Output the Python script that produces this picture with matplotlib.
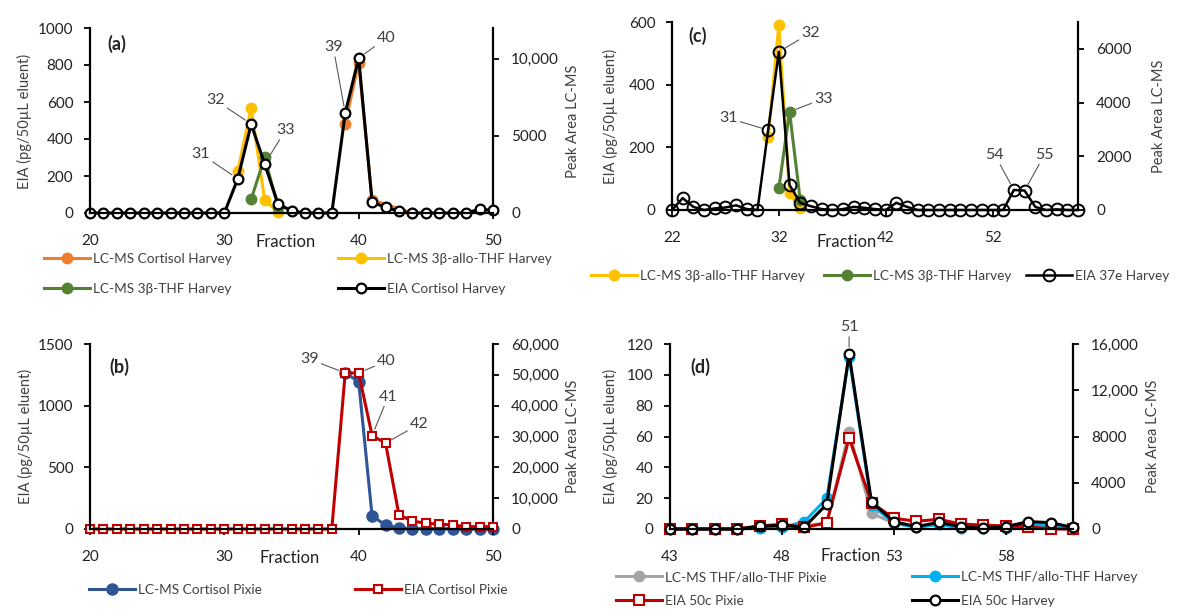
import matplotlib
matplotlib.use('Agg')
import matplotlib.pyplot as plt
from matplotlib.ticker import FuncFormatter, MultipleLocator

plt.rcParams['font.family'] = ['Lato', 'DejaVu Sans']

W, H = 1178, 610
fig = plt.figure(figsize=(W / 100, H / 100), dpi=100)

def fx(px):
    return px / W

def fy(py):
    return 1 - py / H

# ---------------- data ----------------
# (a) Harvey cortisol
frac_a = list(range(20, 51))
eia_cortisol_harvey = [0, 0, 0, 0, 0, 0, 0, 0, 0, 0, 0,
                       185, 481, 265, 49, 12, 0, 0, 0, 540, 838,
                       59, 30, 10, 0, 0, 0, 0, 0, 20, 15]
frac_lcms_cortisol_harvey = [39, 40, 41, 44]
lcms_cortisol_harvey = [5800, 9740, 840, 0]
frac_allo_a = [31, 32, 33, 34]
lcms_allo_thf_harvey_a = [2710, 6840, 840, 60]
frac_thf_a = [32, 33, 34]
lcms_thf_harvey_a = [900, 3610, 390]

# (b) Pixie cortisol
frac_b = list(range(20, 51))
eia_cortisol_pixie = [0] * 19 + [1265, 1265, 757, 697, 114, 65, 46, 40, 32, 19, 19, 19]
frac_lcms_cortisol_pixie = list(range(39, 51))
lcms_cortisol_pixie = [50600, 47800, 4200, 1300, 300, 150, 100, 100, 80, 50, 30, 0]

# (c) Harvey 37e
frac_c = list(range(22, 61))
eia_37e_harvey = [0, 38, 10, 0, 5, 8, 15, 3, 0, 255,
                  505, 80, 23, 12, 3, 0, 3, 10, 7, 3,
                  0, 23, 10, 0, 0, 0, 0, 0, 0, 0,
                  0, 0, 64, 62, 10, 0, 2, 0, 0]
frac_allo_c = [31, 32, 33, 34]
lcms_allo_thf_harvey_c = [2700, 6900, 620, 60]
frac_thf_c = [32, 33, 34]
lcms_thf_harvey_c = [810, 3660, 370]

# (d) 50c
frac_d = list(range(43, 62))
eia_50c_harvey = [0, 0, 0, 0, 1.7, 2.4, 1.3, 16, 113.5, 17.5,
                  4.8, 1.5, 4.3, 1.5, 0.5, 1.5, 4.8, 4.1, 1.0]
eia_50c_pixie = [0, 0, 0, 0, 2, 3, 1, 4, 59, 17,
                 7, 5, 6.3, 3.2, 2.5, 2, 1.5, 0, 0]
lcms_thf_harvey_d = [0, 0, 0, 0, 100, 150, 630, 2650, 14900, 2080,
                     500, 150, 400, 100, 50, 100, 400, 300, 50]
lcms_thf_pixie_d = [0, 0, 0, 0, 100, 150, 300, 500, 8420, 1360,
                    500, 200, 400, 100, 50, 100, 300, 200, 0]

# ---------------- styling ----------------
TXT = '#404040'
ORANGE = '#ED7D31'
YELLOW = '#FFC000'
GREEN = '#548235'
NAVY = '#2F5597'
RED = '#C00000'
GREY = '#A5A5A5'
CYAN = '#00B0F0'


def fmt_num(v, pos):
    v = int(round(v))
    return f"{v:,}" if v >= 10000 else f"{v}"


def make_axes(left, top, right, bottom, xlim, xstep, ylim, ystep, y2lim, y2step):
    ax = fig.add_axes([fx(left), fy(bottom), (right - left) / W, (bottom - top) / H])
    ax2 = ax.twinx()
    ax.set_zorder(ax2.get_zorder() + 1)
    ax.patch.set_visible(False)
    for s in ('top', 'right'):
        ax.spines[s].set_visible(False)
    for s in ('top', 'left', 'bottom'):
        ax2.spines[s].set_visible(False)
    for sp in (ax.spines['left'], ax.spines['bottom'], ax2.spines['right']):
        sp.set_linewidth(1.6)
        sp.set_color('black')
    ax.set_xlim(*xlim)
    ax.set_ylim(*ylim)
    ax2.set_ylim(*y2lim)
    ax.xaxis.set_major_locator(MultipleLocator(xstep, offset=xlim[0] % xstep))
    ax.yaxis.set_major_locator(MultipleLocator(ystep))
    ax2.yaxis.set_major_locator(MultipleLocator(y2step))
    ax.yaxis.set_major_formatter(FuncFormatter(fmt_num))
    ax2.yaxis.set_major_formatter(FuncFormatter(fmt_num))
    ax.tick_params(axis='x', direction='out', length=4, width=1.3, pad=11,
                   labelsize=11, labelcolor='#222222')
    ax.tick_params(axis='y', direction='out', length=4, width=1.3, pad=8,
                   labelsize=11, labelcolor='#222222')
    ax2.tick_params(axis='y', direction='out', length=4, width=1.3, pad=9,
                    labelsize=11, labelcolor='#222222')
    return ax, ax2


def side_labels(xl, xr, yc, fx_c, fy_c, letter, lx, ly, frac_ha='center'):
    fig.text(fx(xl), fy(yc), 'EIA (pg/50µL eluent)', rotation=90, ha='center',
             va='center', fontsize=10.5, color=TXT)
    fig.text(fx(xr), fy(yc), 'Peak Area LC-MS', rotation=90, ha='center',
             va='center', fontsize=10.5, color=TXT)
    fig.text(fx(fx_c), fy(fy_c), 'Fraction', ha=frac_ha, va='center',
             fontsize=12, color='#222222')
    fig.text(fx(lx), fy(ly), letter, ha='center', va='center', fontsize=13,
             fontweight='bold', color='#222222')


def label(ax, n, val, dx_px, dy_px):
    ax.annotate(str(n), xy=(n, val), xytext=(dx_px / 1.389, dy_px / 1.389),
                textcoords='offset points', ha='center', va='center',
                fontsize=11.5, color=TXT,
                arrowprops=dict(arrowstyle='-', color='#595959', lw=0.8,
                                shrinkA=0, shrinkB=5))


def legend_entry(handle, text, x_px, y_px):
    fig.legend([handle], [text], loc='center left',
               bbox_to_anchor=(fx(x_px), fy(y_px)), frameon=False,
               handlelength=3.4, handletextpad=0.2, borderpad=0,
               borderaxespad=0, fontsize=9.8, labelcolor=TXT)


# ---------------- (a) ----------------
axa, axa2 = make_axes(90, 28, 493, 213, (20, 50), 10, (0, 1000), 200, (0, 12000), 5000)
l_or, = axa2.plot(frac_lcms_cortisol_harvey, lcms_cortisol_harvey, color=ORANGE, lw=2.2,
                  marker='o', ms=7.5, clip_on=False)
l_ye, = axa2.plot(frac_allo_a, lcms_allo_thf_harvey_a, color=YELLOW, lw=2.2,
                  marker='o', ms=7.5, clip_on=False)
l_gr, = axa2.plot(frac_thf_a, lcms_thf_harvey_a, color=GREEN, lw=2.2,
                  marker='o', ms=7.5, clip_on=False)
l_bk, = axa.plot(frac_a, eia_cortisol_harvey, color='black', lw=2.2, marker='o', ms=7,
                 mfc='white', mec='black', mew=1.6, clip_on=False)
label(axa, 31, eia_cortisol_harvey[11], -37, 25)
label(axa, 32, eia_cortisol_harvey[12], -36, 24)
label(axa, 33, eia_cortisol_harvey[13], 21, 34)
label(axa, 39, eia_cortisol_harvey[19], -12, 66)
label(axa, 40, eia_cortisol_harvey[20], 28, 20)
side_labels(24, 573, 121, 286, 242, '(a)', 117, 44)
legend_entry(l_or, 'LC-MS Cortisol Harvey', 44, 259)
legend_entry(l_gr, 'LC-MS 3β-THF Harvey', 44, 289)
legend_entry(l_ye, 'LC-MS 3β-allo-THF Harvey', 338, 259)
legend_entry(l_bk, 'EIA Cortisol Harvey', 338, 289)

# ---------------- (b) ----------------
axb, axb2 = make_axes(90, 344, 493, 529, (20, 50), 10, (0, 1500), 500, (0, 60000), 10000)
l_bl, = axb2.plot(frac_lcms_cortisol_pixie, lcms_cortisol_pixie, color=NAVY, lw=2.2,
                  marker='o', ms=8, clip_on=False)
l_rd, = axb.plot(frac_b, eia_cortisol_pixie, color=RED, lw=2.2, marker='s', ms=5.5,
                 mfc='white', mec=RED, mew=1.5, clip_on=False)
label(axb, 39, eia_cortisol_pixie[19], -36, 14)
label(axb, 40, eia_cortisol_pixie[20], 28, 12)
label(axb, 41, eia_cortisol_pixie[21], 16, 39)
label(axb, 42, eia_cortisol_pixie[22], 34, 19)
side_labels(25, 573, 436, 290, 558, '(b)', 119, 367)
legend_entry(l_bl, 'LC-MS Cortisol Pixie', 89, 590)
legend_entry(l_rd, 'EIA Cortisol Pixie', 355, 590)

# ---------------- (c) ----------------
axc, axc2 = make_axes(672, 22, 1078, 210, (22, 60), 10, (0, 600), 200, (0, 7000), 2000)
c_ye, = axc2.plot(frac_allo_c, lcms_allo_thf_harvey_c, color=YELLOW, lw=2.2,
                  marker='o', ms=7.5, clip_on=False)
c_gr, = axc2.plot(frac_thf_c, lcms_thf_harvey_c, color=GREEN, lw=2.2,
                  marker='o', ms=7.5, clip_on=False)
c_bk, = axc.plot(frac_c, eia_37e_harvey, color='black', lw=1.8, marker='o', ms=8.5,
                 mfc='none', mec='black', mew=1.4, clip_on=False)
label(axc, 31, eia_37e_harvey[9], -40, 12)
label(axc, 32, eia_37e_harvey[10], 32, 19)
label(axc2, 33, lcms_thf_harvey_c[1], 34, 13)
label(axc, 54, eia_37e_harvey[32], -19, 35)
label(axc, 55, eia_37e_harvey[33], 20, 36)
side_labels(610, 1159, 116, 877, 242, '(c)', 698, 36, frac_ha='right')
legend_entry(c_ye, 'LC-MS 3β-allo-THF Harvey', 591, 276)
legend_entry(c_gr, 'LC-MS 3β-THF Harvey', 824, 276)
legend_entry(c_bk, 'EIA 37e Harvey', 1026, 276)

# ---------------- (d) ----------------
axd, axd2 = make_axes(670, 344, 1073, 529, (43, 61), 5, (0, 120), 20, (0, 16000), 4000)
d_gy, = axd2.plot(frac_d, lcms_thf_pixie_d, color=GREY, lw=2.2, marker='o', ms=7.5,
                  clip_on=False)
d_cy, = axd2.plot(frac_d, lcms_thf_harvey_d, color=CYAN, lw=2.2, marker='o', ms=7.5,
                  clip_on=False)
d_rd, = axd.plot(frac_d, eia_50c_pixie, color=RED, lw=2.2, marker='s', ms=6.5,
                 mfc='white', mec=RED, mew=1.5, clip_on=False)
d_bk, = axd.plot(frac_d, eia_50c_harvey, color='black', lw=2.2, marker='o', ms=7,
                 mfc='white', mec='black', mew=1.6, clip_on=False)
label(axd, 51, eia_50c_harvey[8], 0, 27)
side_labels(610, 1153, 436, 881, 556, '(d)', 700, 367, frac_ha='right')
legend_entry(d_gy, 'LC-MS THF/allo-THF Pixie', 616, 577)
legend_entry(d_cy, 'LC-MS THF/allo-THF Harvey', 912, 577)
legend_entry(d_rd, 'EIA 50c Pixie', 616, 601)
legend_entry(d_bk, 'EIA 50c Harvey', 912, 601)

fig.savefig('out.png', dpi=100)
